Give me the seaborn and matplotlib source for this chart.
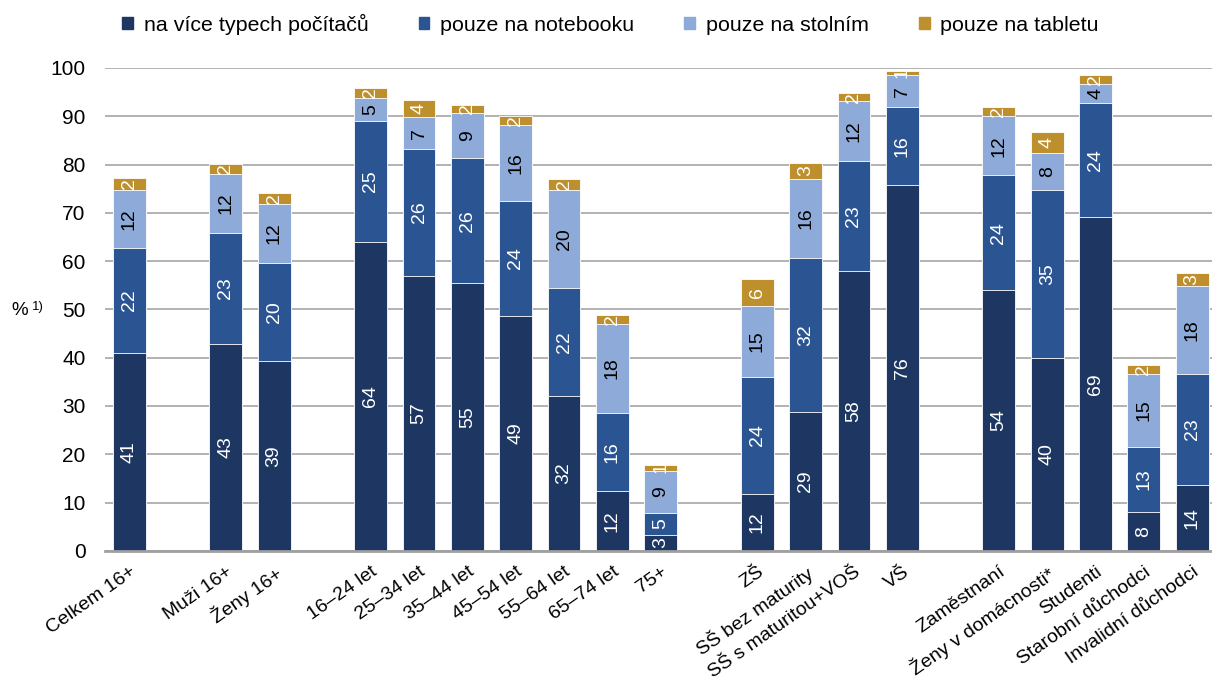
import numpy as np
import pandas as pd
import seaborn as sns
import matplotlib.pyplot as plt

# kategorie po skupinách (mezi skupinami je mezera)
groups = [
    ["Celkem 16+"],
    ["Muži 16+", "Ženy 16+"],
    ["16–24 let", "25–34 let", "35–44 let", "45–54 let", "55–64 let", "65–74 let", "75+"],
    ["ZŠ", "SŠ bez maturity", "SŠ s maturitou+VOŠ", "VŠ"],
    ["Zaměstnaní", "Ženy v domácnosti*", "Studenti", "Starobní důchodci", "Invalidní důchodci"],
]

series = ["na více typech počítačů", "pouze na notebooku", "pouze na stolním", "pouze na tabletu"]

vice_typu = [41.0, 42.9, 39.3, 64.0, 56.9, 55.4, 48.7, 32.1, 12.4, 3.3,
             11.8, 28.8, 58.0, 75.8, 54.0, 40.0, 69.2, 8.1, 13.6]
notebook = [21.7, 22.9, 20.4, 25.0, 26.3, 25.9, 23.8, 22.4, 16.2, 4.6,
            24.2, 31.9, 22.7, 16.1, 23.8, 34.7, 23.6, 13.4, 23.1]
stolni = [12.0, 12.3, 12.1, 4.8, 6.6, 9.3, 15.6, 20.2, 18.4, 8.7,
          14.7, 16.3, 12.4, 6.6, 12.2, 7.6, 3.8, 15.1, 18.1]
tablet = [2.5, 2.0, 2.4, 2.1, 3.6, 1.8, 1.9, 2.4, 1.9, 1.2,
          5.6, 3.4, 1.7, 0.9, 2.0, 4.4, 2.0, 1.9, 2.7]

colors = ["#1d3762", "#2b5592", "#8eaad8", "#bd8f2d"]
text_colors = ["white", "white", "black", "white"]

# pozice sloupců: skupiny oddělené jedním prázdným místem
labels, xpos = [], []
pos = 0
for g in groups:
    for name in g:
        labels.append(name)
        xpos.append(pos)
        pos += 1
    pos += 1

values = np.array([vice_typu, notebook, stolni, tablet])
cum = values.cumsum(axis=0)

plt.rcParams["font.family"] = ["Liberation Sans", "DejaVu Sans"]
fig = plt.figure(figsize=(12.12, 6.86), dpi=100)
ax = fig.add_axes([0.0866, 0.197, 0.917, 0.704])

bar_w = 0.68
# překryvné kreslení kumulativních součtů (od nejvyššího)
for i in range(3, -1, -1):
    df = pd.DataFrame({"x": xpos, "y": cum[i]})
    sns.barplot(data=df, x="x", y="y", native_scale=True, color=colors[i],
                width=bar_w, saturation=1, edgecolor="white", linewidth=0.6,
                ax=ax, zorder=3)

# popisky hodnot uvnitř segmentů
for i in range(4):
    for j, x in enumerate(xpos):
        v = values[i][j]
        yc = cum[i][j] - v / 2
        t = ax.text(x, yc, f"{v:.0f}", rotation=90, ha="center", va="center",
                    color=text_colors[i], fontsize=14, zorder=5)
        rect = plt.Rectangle((x - bar_w / 2, cum[i][j] - v), bar_w, v,
                             transform=ax.transData)
        t.set_clip_path(rect)

ax.set_xlim(-0.5, 22.5)
ax.set_ylim(0, 100)
ax.set_yticks(range(0, 101, 10))
ax.tick_params(axis="y", length=0, labelsize=15, pad=14)
ax.tick_params(axis="x", length=0, pad=9)
ax.set_xticks(xpos)
ax.set_xticklabels(labels, rotation=35, ha="right", rotation_mode="anchor", fontsize=14)
ax.set_xlabel("")
ax.set_ylabel("")
ax.yaxis.grid(True, color="#a6a6a6", linewidth=1.2, zorder=0)
ax.set_axisbelow(True)
for s in ["left", "right", "top"]:
    ax.spines[s].set_visible(False)
ax.spines["bottom"].set_color("#a0a0a0")
ax.spines["bottom"].set_linewidth(2)
ax.spines["bottom"].set_zorder(4)

fig.text(0.009, 0.548, "%", fontsize=13.5, va="center")
fig.text(0.026, 0.553, "1)", fontsize=9.5, va="center")

handles = [plt.Rectangle((0, 0), 1, 1, color=c) for c in colors]
fig.legend(handles, series, loc="upper left", bbox_to_anchor=(0.085, 1.008), ncol=4,
           frameon=False, fontsize=15.4, handlelength=0.5, handleheight=0.5,
           handletextpad=0.5, columnspacing=2.35)

fig.savefig("out.png", dpi=100)
